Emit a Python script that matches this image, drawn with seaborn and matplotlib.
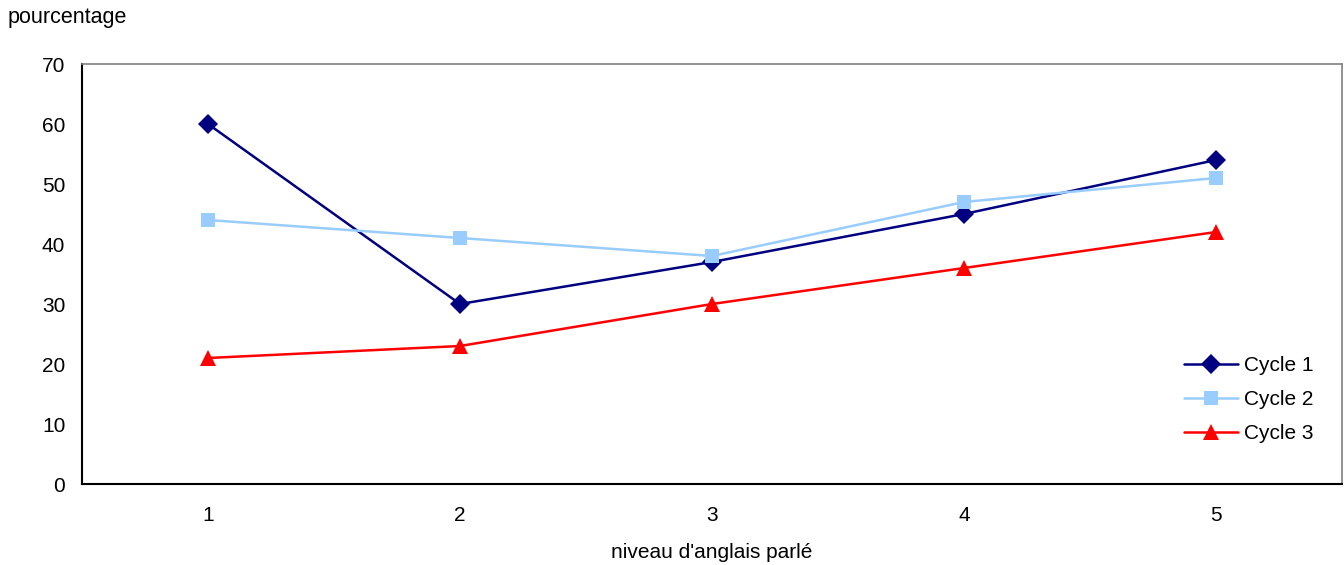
import matplotlib
matplotlib.use("Agg")
import matplotlib.pyplot as plt
import seaborn as sns
import pandas as pd

levels = [1, 2, 3, 4, 5]
cycle1 = [60, 30, 37, 45, 54]
cycle2 = [44, 41, 38, 47, 51]
cycle3 = [21, 23, 30, 36, 42]
series_names = ["Cycle 1", "Cycle 2", "Cycle 3"]
y_ticks = [0, 10, 20, 30, 40, 50, 60, 70]

sns.set_theme(style="white")
plt.rcParams['font.family'] = ['Liberation Sans', 'DejaVu Sans']
plt.rcParams['text.color'] = 'black'
plt.rcParams['axes.labelcolor'] = 'black'
plt.rcParams['xtick.color'] = 'black'
plt.rcParams['ytick.color'] = 'black'

FS = 15

df = pd.DataFrame({
    "niveau": levels * 3,
    "pct": cycle1 + cycle2 + cycle3,
    "serie": [series_names[0]] * 5 + [series_names[1]] * 5 + [series_names[2]] * 5,
})

fig = plt.figure(figsize=(13.44, 5.65), dpi=100)
ax = fig.add_axes([82/1344, 1 - 484/565, (1342-82)/1344, (484-64)/565])

palette = {"Cycle 1": "#000080", "Cycle 2": "#99CCFF", "Cycle 3": "#FF0000"}
markers = {"Cycle 1": "D", "Cycle 2": "s", "Cycle 3": "^"}
sizes = {"Cycle 1": 10.5, "Cycle 2": 10.5, "Cycle 3": 12}
for name in series_names:
    sub = df[df["serie"] == name]
    sns.lineplot(data=sub, x="niveau", y="pct", ax=ax, color=palette[name],
                 marker=markers[name], markersize=sizes[name], markeredgewidth=0,
                 linewidth=1.8, label=name)

ax.set_xlim(0.5, 5.5)
ax.set_ylim(0, 70)
ax.set_yticks(y_ticks)
ax.set_yticklabels([str(v) for v in y_ticks], fontsize=FS, color="black")
ax.set_xticks([1.5, 2.5, 3.5, 4.5])
ax.set_xticklabels([])
ax.set_xticks(levels, minor=True)
ax.set_xticklabels([str(v) for v in levels], minor=True, fontsize=FS, color="black")
ax.tick_params(axis="x", which="major", direction="in", length=6, width=1.2, color="black")
ax.tick_params(axis="x", which="minor", length=0, pad=16)
ax.tick_params(axis="y", direction="in", length=6, width=1.2, color="black", pad=12)

for s in ["left", "bottom"]:
    ax.spines[s].set_color("black")
    ax.spines[s].set_linewidth(1.5)
for s in ["top", "right"]:
    ax.spines[s].set_color("#808080")
    ax.spines[s].set_linewidth(1.2)
ax.spines["top"].set_visible(True)
ax.spines["right"].set_visible(True)

ax.set_xlabel("niveau d'anglais parlé", fontsize=FS, labelpad=13, color="black")
ax.set_ylabel("")
fig.text(8/1344, 1 - 18/565, "pourcentage", fontsize=15.5, va="center", ha="left", color="black")

leg = ax.legend(loc="upper left", bbox_to_anchor=((1184-82)/1260, (484-356)/420), frameon=False,
                fontsize=FS, handlelength=2.6, handletextpad=0.3, labelspacing=0.72,
                borderaxespad=0, borderpad=0)
for t in leg.get_texts():
    t.set_color("black")

fig.savefig("out.png", dpi=100)
